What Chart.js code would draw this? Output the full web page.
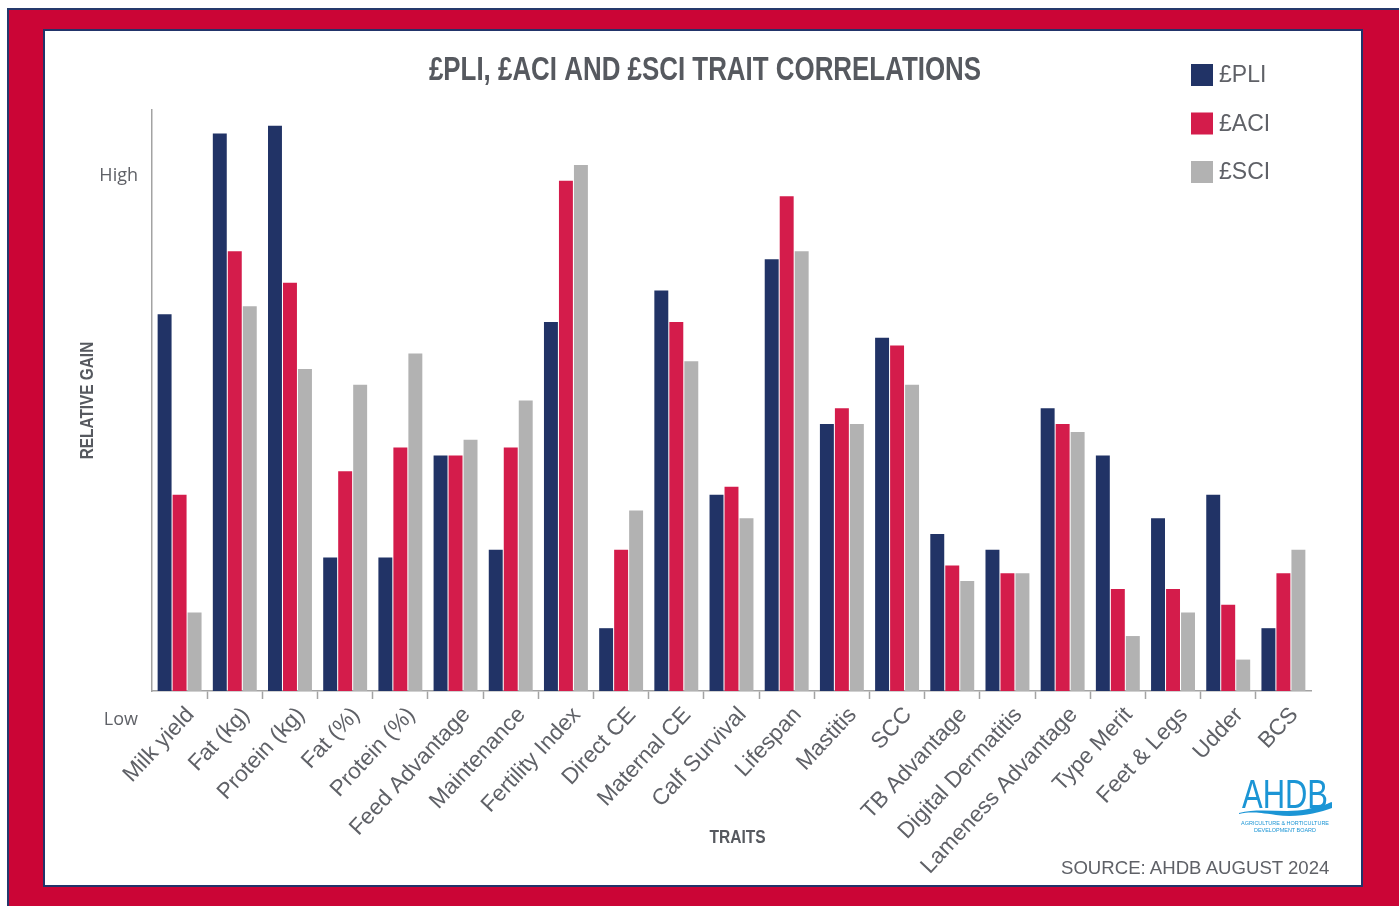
<!DOCTYPE html>
<html>
<head>
<meta charset="utf-8">
<script src="https://cdn.jsdelivr.net/npm/chart.js@4.4.1/dist/chart.umd.min.js"></script>
<style>
  body { margin: 0; background: #fff; width: 1399px; height: 906px; overflow: hidden; position: relative; }
  .frame { position: absolute; left: 7px; top: 8px; width: 1400px; height: 906px; background: #cb0536;
           border-top: 2px solid #25396b; border-left: 2px solid #25396b; box-sizing: border-box; }
  .panel { position: absolute; left: 43px; top: 29px; width: 1320px; height: 858px; background: #fff;
           border: 2px solid #22346a; box-sizing: border-box; }
  #traitChart { position: absolute; left: 45px; top: 31px; }
  .source { position: absolute; left: 1061px; top: 857px; font: 18.6px 'Liberation Sans', Arial, sans-serif; color: #5f6167; }
  .logo { position: absolute; left: 1236px; top: 772px; }
</style>
</head>
<body>
<div class="frame"></div>
<div class="panel"></div>
<canvas id="traitChart" width="1318" height="856"></canvas>
<svg class="logo" width="100" height="66" viewBox="0 0 100 66">
  <text x="6" y="36" font-family="'Liberation Sans', Arial, sans-serif" font-size="40" fill="#1b95d5"
        textLength="86" lengthAdjust="spacingAndGlyphs">AHDB</text>
  <path d="M3 41 C 25 35, 50 42, 72 37 S 92 31, 96 30 L 96 36 C 82 41, 62 46, 40 43 S 14 40, 3 42 Z" fill="#1b95d5"/>
  <text x="5" y="53" font-size="5" fill="#1b95d5" font-family="'Liberation Sans', Arial, sans-serif"
        textLength="88" lengthAdjust="spacingAndGlyphs">AGRICULTURE &amp; HORTICULTURE</text>
  <text x="18" y="60" font-size="5" fill="#1b95d5" font-family="'Liberation Sans', Arial, sans-serif"
        textLength="62" lengthAdjust="spacingAndGlyphs">DEVELOPMENT BOARD</text>
</svg>
<div class="source">SOURCE: AHDB AUGUST 2024</div>

<script>
// relative gain (same arbitrary unit for all bars)
const traits = ['Milk yield', 'Fat (kg)', 'Protein (kg)', 'Fat (%)', 'Protein (%)', 'Feed Advantage',
  'Maintenance', 'Fertility Index', 'Direct CE', 'Maternal CE', 'Calf Survival', 'Lifespan', 'Mastitis',
  'SCC', 'TB Advantage', 'Digital Dermatitis', 'Lameness Advantage', 'Type Merit', 'Feet & Legs', 'Udder', 'BCS'];
const pli = [48, 71, 72, 17, 17, 30, 18, 47, 8, 51, 25, 55, 34, 45, 20, 18, 36, 30, 22, 25, 8];
const aci = [25, 56, 52, 28, 31, 30, 31, 65, 18, 47, 26, 63, 36, 44, 16, 15, 34, 13, 13, 11, 15];
const sci = [10, 49, 41, 39, 43, 32, 37, 67, 23, 42, 22, 56, 34, 39, 14, 15, 33, 7, 10, 4, 18];
const seriesNames = ['£PLI', '£ACI', '£SCI'];
const yTickLabels = ['Low', 'High'];
const yTickValues = [-3.7, 65.6];

const chartTitle = '£PLI, £ACI AND £SCI TRAIT CORRELATIONS';
const xTitle = 'TRAITS';
const yTitle = 'RELATIVE GAIN';

const grey = '#5f6167';
const titleGrey = '#56595f';
const axisGrey = '#a3a3a3';

// no condensed bold face installed, so squeeze Liberation Sans Bold horizontally
function squeezedText(ctx, text, x, y, size, squeeze, vertical, color) {
  ctx.save();
  ctx.translate(x, y);
  if (vertical) ctx.rotate(-Math.PI / 2);
  ctx.scale(squeeze, 1);
  ctx.font = `bold ${size}px 'Liberation Sans', Arial, sans-serif`;
  ctx.textAlign = 'center';
  ctx.textBaseline = 'alphabetic';
  ctx.fillStyle = color;
  ctx.fillText(text, 0, 0);
  ctx.restore();
}

const condensedTitles = {
  id: 'condensedTitles',
  afterDraw(chart) {
    const { ctx, chartArea } = chart;
    const midY = (chartArea.top + chartArea.bottom) / 2;
    const midX = (chartArea.left + chartArea.right) / 2;
    squeezedText(ctx, chartTitle, chart.width / 2 + 1, 49, 33, 0.785, false, titleGrey);
    squeezedText(ctx, yTitle, 48, midY, 18.5, 0.83, true, titleGrey);
    squeezedText(ctx, xTitle, midX + 6, 812, 18.5, 0.84, false, titleGrey);
  }
};

// legend stacked top right, drawn from the datasets
const sideLegend = {
  id: 'sideLegend',
  afterDraw(chart) {
    const ctx = chart.ctx;
    ctx.save();
    ctx.font = "23px 'Liberation Sans', Arial, sans-serif";
    ctx.textBaseline = 'middle';
    chart.data.datasets.forEach((ds, i) => {
      const y = 33 + i * 48.5;
      ctx.fillStyle = ds.backgroundColor;
      ctx.fillRect(1146, y, 22, 22);
      ctx.fillStyle = grey;
      ctx.fillText(ds.label, 1174, y + 12);
    });
    ctx.restore();
  }
};

new Chart(document.getElementById('traitChart').getContext('2d'), {
  type: 'bar',
  data: {
    labels: traits,
    datasets: [
      { label: seriesNames[0], data: pli, backgroundColor: '#213366' },
      { label: seriesNames[1], data: aci, backgroundColor: '#d41c4b' },
      { label: seriesNames[2], data: sci, backgroundColor: '#b2b2b2' },
    ],
  },
  options: {
    responsive: false,
    animation: false,
    devicePixelRatio: 1,
    barPercentage: 0.93,
    categoryPercentage: 0.815,
    layout: { padding: { left: 20, right: 52, top: 79, bottom: 0 } },
    plugins: {
      legend: { display: false },
      tooltip: { enabled: false },
      title: { display: false },
    },
    scales: {
      x: {
        afterFit: (scale) => { scale.height = 196; },
        grid: {
          drawOnChartArea: false,
          drawTicks: true,
          tickLength: 8,
          tickWidth: 1.5,
          color: (ctx) => (ctx.type !== 'tick' || ctx.index === 0) ? 'rgba(0,0,0,0)' : axisGrey,
        },
        border: { display: true, color: axisGrey, width: 1.5 },
        ticks: {
          autoSkip: false,
          minRotation: 47,
          maxRotation: 47,
          labelOffset: 11,
          padding: 3,
          color: grey,
          font: { family: "'Liberation Sans', Arial, sans-serif", size: 22.5 },
        },
      },
      y: {
        min: 0,
        max: 74,
        afterFit: (scale) => { scale.width = 87; },
        afterBuildTicks: (scale) => { scale.ticks = yTickValues.map(v => ({ value: v })); },
        grid: { display: false, drawTicks: false },
        border: { display: true, color: axisGrey, width: 1.5 },
        ticks: {
          padding: 14,
          color: grey,
          font: { family: "'Open Sans', sans-serif", size: 18 },
          callback: (value, index) => yTickLabels[index],
        },
      },
    },
  },
  plugins: [sideLegend, condensedTitles],
});
</script>
</body>
</html>
